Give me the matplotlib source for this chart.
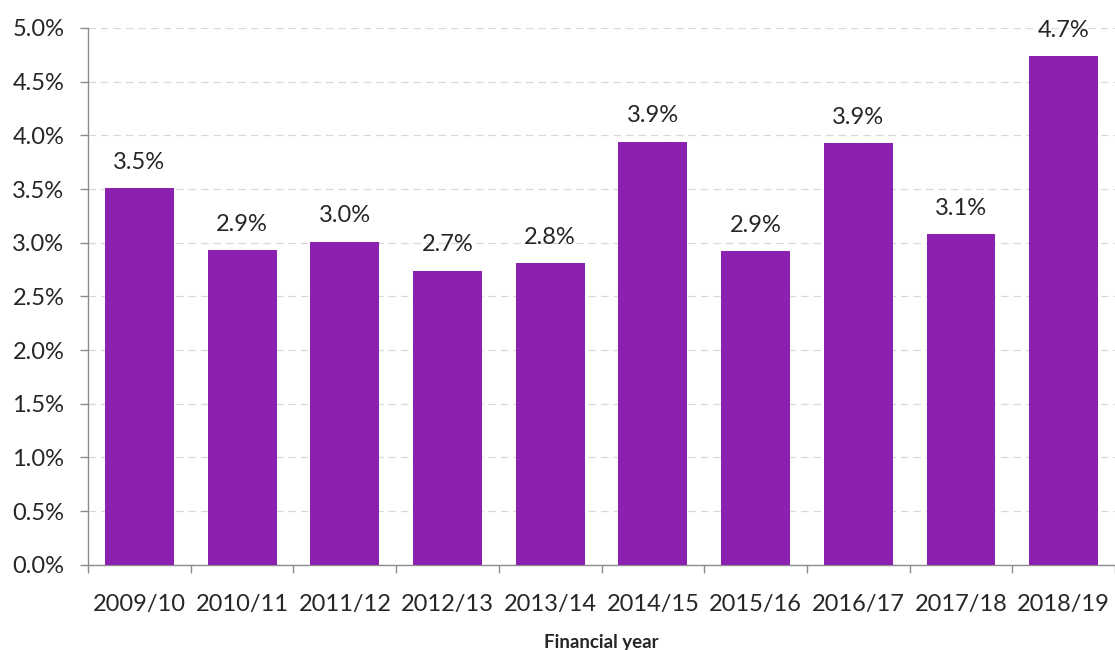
import matplotlib as mpl
import matplotlib.pyplot as plt
from matplotlib.ticker import FuncFormatter, FixedLocator

years = ["2009/10", "2010/11", "2011/12", "2012/13", "2013/14",
         "2014/15", "2015/16", "2016/17", "2017/18", "2018/19"]
rates = [3.51, 2.93, 3.01, 2.74, 2.81, 3.94, 2.92, 3.93, 3.08, 4.74]

mpl.rcParams.update({'font.family': ['Lato', 'DejaVu Sans'], 'font.size': 17})

dpi = 100
fig = plt.figure(dpi=dpi, figsize=(1115 / dpi, 650 / dpi))
ax = fig.add_axes([0.079, 0.131, 0.921, 0.826])

xs = range(len(years))
bars = ax.bar(xs, rates, width=0.67, color='#8c21b0', zorder=3)

for x, v in zip(xs, rates):
    ax.annotate(f"{v:.1f}%", (x, v), xytext=(0, 11), textcoords='offset points',
                ha='center', va='bottom', fontsize=17, color='#262626')

ax.set_xlim(-0.5, len(years) - 0.5)
ax.set_ylim(0, 5.0)
ax.set_yticks([i * 0.5 for i in range(11)])
ax.yaxis.set_major_formatter(FuncFormatter(lambda v, p: f"{v:.1f}%"))
ax.yaxis.grid(True, linestyle=(0, (6, 4)), color='#d9d9d9', linewidth=0.9, zorder=0)

# category labels centred, ticks on category boundaries
ax.set_xticks(list(xs))
ax.set_xticklabels(years)
ax.tick_params(axis='x', length=0, pad=21, labelsize=17, labelcolor='#262626')
ax.xaxis.set_minor_locator(FixedLocator([i - 0.5 for i in range(len(years) + 1)]))
ax.tick_params(axis='x', which='minor', length=6, color='#8c8c8c', width=1)
ax.tick_params(axis='y', length=6, color='#8c8c8c', width=1, labelsize=17,
               labelcolor='#262626', pad=11)

for s in ['top', 'right']:
    ax.spines[s].set_visible(False)
for s in ['left', 'bottom']:
    ax.spines[s].set_color('#8c8c8c')
    ax.spines[s].set_linewidth(1)

ax.set_xlabel('Financial year', fontsize=13.5, fontweight='bold', labelpad=14, color='#262626')

plt.savefig('out.png', dpi=dpi)
